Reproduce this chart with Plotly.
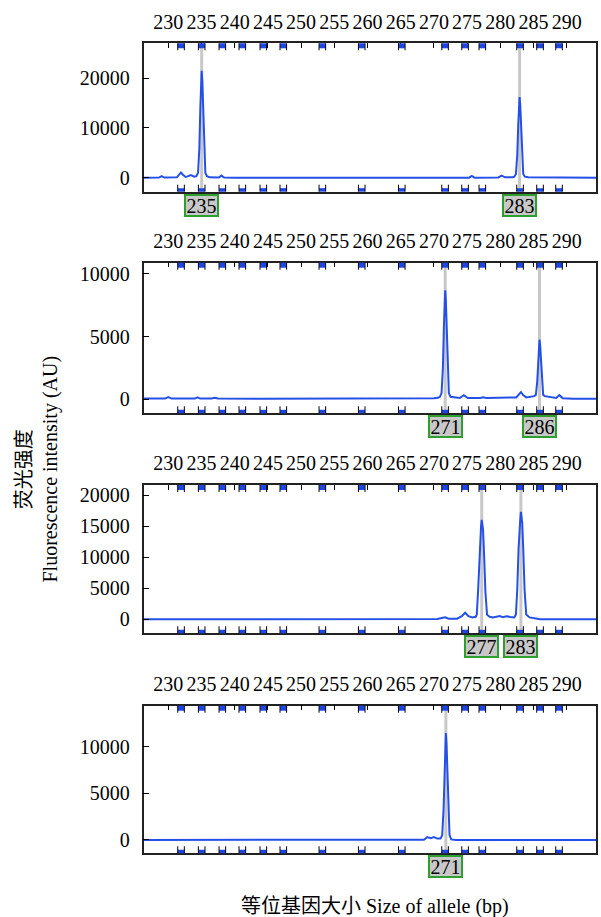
import plotly.graph_objects as go

# ---------------- data ----------------
X_RANGE = [226.27, 294.41]
TICK_VALS = [230, 235, 240, 245, 250, 255, 260, 265, 270, 275, 280, 285, 290]
TICK_TEXT = ["230", "235", "240", "245", "250", "255", "260", "265", "270", "275", "280", "285", "290"]

# allele bins (bp)
BINS = [231.92, 235.03, 238.14, 241.15, 244.31, 247.32, 253.20, 259.13,
        265.16, 271.68, 274.69, 277.29, 282.97, 285.98, 288.84]

# panel 1
p1_x = [226.27, 228.6, 229.0, 229.4, 231.3, 231.6, 231.9, 232.2, 232.6, 232.9, 233.4, 233.9,
        234.23, 234.48, 234.68, 234.83, 234.93, 235.03, 235.13, 235.23, 235.38, 235.58, 235.83,
        236.2, 237.6, 238.0, 238.4, 240.0, 275.3, 275.7, 276.1, 279.7, 280.2, 280.7, 281.9,
        282.1, 282.35, 282.55, 282.7, 282.8, 282.9, 283.0, 283.1, 283.25, 283.45, 283.7,
        284.2, 294.41]
p1_y = [0, 20, 320, 20, 60, 600, 1050, 600, 150, 250, 520, 200,
        300, 970, 6000, 14200, 19400, 21500, 19400, 14200, 6000, 970, 300,
        60, 40, 420, 40, 0, 0, 330, 0, 40, 400, 60, 100,
        200, 730, 4500, 10700, 14600, 16200, 14600, 10700, 4500, 730, 200,
        60, 0]

# panel 2
p2_x = [226.27, 229.5, 230.0, 230.5, 234.0, 234.4, 234.8, 236.5, 237.0, 237.5, 244.0, 250.0,
        260.0, 266.0, 268.0, 270.0, 270.6,
        270.9, 271.15, 271.35, 271.5, 271.6, 271.7, 271.8, 271.9, 272.05, 272.25, 272.5,
        273.9, 274.5, 275.1, 277.0, 277.4, 277.9, 280.0, 280.4, 280.8, 282.4, 282.8, 283.1,
        283.4, 283.9,
        285.1, 285.35, 285.55, 285.7, 285.8, 285.9, 286.0, 286.1, 286.25, 286.45, 286.7,
        288.4, 288.9, 289.4, 291.0, 294.41]
p2_y = [60, 60, 180, 60, 60, 150, 60, 60, 120, 60, 40, 40,
        30, 40, 60, 80, 120,
        200, 500, 2450, 5750, 7850, 8700, 7850, 5750, 2450, 500, 200,
        100, 320, 100, 100, 160, 100, 100, 150, 100, 150, 400, 580,
        350, 150,
        250, 350, 1350, 3150, 4300, 4750, 4300, 3150, 1350, 350, 250,
        100, 330, 80, 40, 40]

# panel 3
p3_x = [226.27, 250.0, 268.0, 270.5, 271.2, 271.7, 272.2, 273.5, 274.2, 274.7, 275.2, 275.8,
        276.3, 276.45, 276.65, 276.85, 277.0, 277.1, 277.2, 277.3, 277.4, 277.55, 277.75,
        278.0, 278.4, 278.9, 279.4, 279.9, 280.4, 280.9, 281.5, 282.1,
        282.35, 282.55, 282.75, 282.9, 283.0, 283.1, 283.2, 283.3, 283.45, 283.65, 283.9,
        284.4, 286.0, 294.41]
p3_y = [0, 0, 0, 30, 200, 320, 100, 100, 500, 1050, 500, 300,
        400, 720, 4500, 10600, 14400, 15000, 16000, 15000, 14400, 10600, 4500,
        720, 400, 300, 450, 520, 350, 500, 380, 300,
        780, 4800, 11400, 15500, 16000, 17300, 16000, 15500, 11400, 4800, 780,
        300, 0, 0]

# panel 4
p4_x = [226.27, 250.0, 266.0, 268.5, 269.0, 269.5, 270.0, 270.5, 271.0,
        271.25, 271.45, 271.6, 271.7, 271.8, 271.9, 272.0, 272.15, 272.35, 272.6,
        273.3, 280.0, 294.41]
p4_y = [0, 0, 0, 30, 300, 180, 300, 150, 150,
        520, 3200, 7560, 10300, 11460, 10300, 7560, 3200, 520, 60,
        0, 0, 0]

TRACES_X = [p1_x, p2_x, p3_x, p4_x]
TRACES_Y = [p1_y, p2_y, p3_y, p4_y]

# called alleles per panel: position (bp) and label
CALL_POS = [[235.03, 282.9], [271.7, 285.9], [277.2, 283.1], [271.8]]
CALL_TXT = [["235", "283"], ["271", "286"], ["277", "283"], ["271"]]

Y_RANGES = [[-2817, 27042], [-1116, 10893], [-2253, 21612], [-1425, 14388]]
Y_TICKS = [[0, 10000, 20000], [0, 5000, 10000], [0, 5000, 10000, 15000, 20000], [0, 5000, 10000]]
Y_TICK_TEXT = [["0", "10000", "20000"], ["0", "5000", "10000"],
               ["0", "5000", "10000", "15000", "20000"], ["0", "5000", "10000"]]

Y_TITLE = "荧光强度<br>Fluorescence intensity (AU)"
X_TITLE = "等位基因大小 Size of allele (bp)"

# ---------------- style ----------------
FONT = "Liberation Serif, Times New Roman, Noto Sans CJK SC, serif"
BLUE = "#2450e8"
BIN_BLUE = "#1e46e6"
GREY = "#c8c8c8"
GREEN = "#2e9e2e"
AXIS = "#222222"
X_DOMAIN = [0.2388, 0.9917]
Y_DOMAINS = [[0.7910, 0.9528], [0.5493, 0.7135], [0.3094, 0.4711], [0.0695, 0.2304]]

fig = go.Figure()
shapes = []
annotations = []
layout = dict(
    width=601, height=917,
    margin=dict(l=0, r=0, t=0, b=0, pad=0, autoexpand=False),
    paper_bgcolor="white", plot_bgcolor="white",
    showlegend=False,
    font=dict(family=FONT, size=20, color="black"),
)

for i in range(4):
    n = i + 1
    xa = "x" if n == 1 else f"x{n}"
    ya = "y" if n == 1 else f"y{n}"
    fig.add_trace(go.Scatter(
        x=TRACES_X[i], y=TRACES_Y[i], mode="lines",
        line=dict(color=BLUE, width=2), xaxis=xa, yaxis=ya, hoverinfo="skip"))

    layout[f"xaxis{n if n > 1 else ''}"] = dict(
        domain=X_DOMAIN, range=X_RANGE, anchor=ya, side="top",
        tickmode="array", tickvals=TICK_VALS, ticktext=TICK_TEXT,
        ticks="inside", ticklen=5, tickwidth=1, tickcolor="black",
        showline=True, mirror=True, linecolor=AXIS, linewidth=1.5,
        showgrid=False, zeroline=False, tickfont=dict(family=FONT, size=20),
        ticklabelstandoff=5, automargin=False,
    )
    layout[f"yaxis{n if n > 1 else ''}"] = dict(
        domain=Y_DOMAINS[i], range=Y_RANGES[i], anchor=xa,
        tickmode="array", tickvals=Y_TICKS[i], ticktext=Y_TICK_TEXT[i],
        ticks="inside", ticklen=6, tickwidth=1, tickcolor="black",
        showline=True, mirror=True, linecolor=AXIS, linewidth=1.5,
        showgrid=False, zeroline=False, tickfont=dict(family=FONT, size=20),
        ticklabelstandoff=8, automargin=False,
    )

    # grey allele call lines
    for pos in CALL_POS[i]:
        shapes.append(dict(type="line", xref=xa, yref=f"{ya} domain",
                           x0=pos, x1=pos, y0=0, y1=1, layer="below",
                           line=dict(color=GREY, width=3)))

    # bin markers (top and bottom)
    for b in BINS:
        shapes.append(dict(type="rect", xref=xa, yref=f"{ya} domain",
                           x0=b - 0.48, x1=b + 0.48, ysizemode="pixel", yanchor=0,
                           y0=0, y1=3.5, fillcolor=BIN_BLUE, line=dict(width=0)))
        shapes.append(dict(type="path", xref=xa, yref=f"{ya} domain",
                           xsizemode="pixel", xanchor=b, ysizemode="pixel", yanchor=0,
                           path="M-3.3,0 L-3.3,7 M3.3,0 L3.3,7",
                           line=dict(color="black", width=1)))
        shapes.append(dict(type="rect", xref=xa, yref=f"{ya} domain",
                           x0=b - 0.48, x1=b + 0.48, ysizemode="pixel", yanchor=1,
                           y0=-5, y1=0, fillcolor=BIN_BLUE, line=dict(width=0)))
        shapes.append(dict(type="path", xref=xa, yref=f"{ya} domain",
                           xsizemode="pixel", xanchor=b, ysizemode="pixel", yanchor=1,
                           path="M-3.3,0 L-3.3,-7 M3.3,0 L3.3,-7",
                           line=dict(color="black", width=1)))

    # allele labels
    for pos, txt in zip(CALL_POS[i], CALL_TXT[i]):
        annotations.append(dict(
            x=pos, xref=xa, y=0, yref=f"{ya} domain", yanchor="top", xanchor="center",
            yshift=-2, text=txt, showarrow=False,
            font=dict(family=FONT, size=20, color="black"),
            bgcolor=GREY, bordercolor=GREEN, borderwidth=2, borderpad=0,
            width=31, height=19))

annotations.append(dict(
    x=37.5 / 601, y=1 - 469 / 917, xref="paper", yref="paper",
    text=Y_TITLE, textangle=-90, showarrow=False,
    font=dict(family=FONT, size=20, color="black"), xanchor="center", yanchor="middle"))
annotations.append(dict(
    x=375 / 601, y=1 - 906 / 917, xref="paper", yref="paper",
    text=X_TITLE, showarrow=False,
    font=dict(family=FONT, size=20, color="black"), xanchor="center", yanchor="middle"))

layout["shapes"] = shapes
layout["annotations"] = annotations
fig.update_layout(**layout)
fig.write_html(
    "out.html",
    config={"displayModeBar": False},
    post_script="document.body.style.margin='0';document.body.style.padding='0';"
                "document.documentElement.style.overflow='hidden';",
)
